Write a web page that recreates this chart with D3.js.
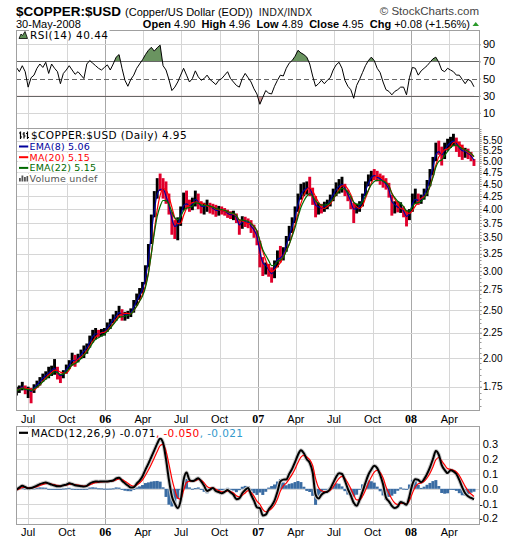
<!DOCTYPE html>
<html><head><meta charset="utf-8">
<script src="https://cdn.jsdelivr.net/npm/d3@7"></script>
<style>body{margin:0;background:#fff}svg{display:block}</style>
</head><body>
<svg id="c" width="520" height="540"></svg>
<script>
// ---------- DATA (weekly readings from the picture) ----------
const firstWeek = "2005-06-03";
const closeVals = [
1.72,1.74,1.76,1.71,1.73,1.70,1.76,1.78,1.81,1.84,
1.86,1.88,1.90,1.92,1.85,1.82,1.87,1.92,1.96,2.01,
1.97,2.01,2.05,2.09,2.12,2.19,2.25,2.26,2.23,2.26,
2.27,2.33,2.37,2.42,2.46,2.50,2.44,2.45,2.46,2.48,
2.58,2.66,2.73,2.80,3.02,3.35,3.85,4.25,4.50,4.45,
4.40,4.15,3.95,3.65,3.60,3.75,3.98,4.20,4.12,4.05,
4.12,4.25,4.10,4.00,4.05,4.08,4.02,4.00,3.95,3.98,
3.97,3.95,3.90,3.88,3.90,3.82,3.62,3.80,3.77,3.76,
3.65,3.58,3.45,3.12,3.00,3.05,2.98,2.92,3.10,3.25,
3.20,3.28,3.48,3.62,3.80,3.98,4.25,4.40,4.42,4.45,
4.40,4.15,3.95,4.02,4.00,4.08,4.10,4.22,4.35,4.45,
4.50,4.52,4.35,4.20,4.05,3.90,4.02,4.08,4.25,4.48,
4.62,4.72,4.70,4.62,4.58,4.52,4.45,4.30,3.98,4.05,
4.00,4.02,3.92,3.80,3.95,4.22,4.25,4.15,4.20,4.35,
4.50,4.75,5.02,5.35,5.28,5.10,5.35,5.45,5.50,5.52,
5.40,5.25,5.20,5.22,5.15,5.08,4.95];
const highVals = [
1.75,1.76,1.79,1.76,1.75,1.74,1.77,1.80,1.83,1.86,
1.88,1.92,1.93,1.99,1.92,1.86,1.89,1.94,1.98,2.05,
2.03,2.04,2.08,2.12,2.14,2.22,2.28,2.30,2.28,2.29,
2.30,2.36,2.40,2.45,2.49,2.55,2.51,2.48,2.49,2.52,
2.62,2.70,2.77,2.85,3.08,3.40,3.90,4.35,4.62,4.72,
4.62,4.55,4.30,3.95,3.80,3.85,4.05,4.32,4.36,4.18,
4.22,4.36,4.30,4.15,4.12,4.18,4.12,4.10,4.08,4.06,
4.05,4.02,3.99,3.96,3.97,3.92,3.80,3.87,3.86,3.83,
3.80,3.72,3.62,3.45,3.20,3.12,3.10,3.05,3.15,3.30,
3.37,3.35,3.53,3.70,3.85,4.05,4.30,4.50,4.53,4.55,
4.65,4.42,4.25,4.12,4.10,4.14,4.18,4.28,4.40,4.53,
4.60,4.65,4.50,4.38,4.25,4.12,4.10,4.15,4.30,4.55,
4.70,4.78,4.82,4.78,4.72,4.68,4.62,4.52,4.28,4.15,
4.15,4.13,4.05,3.98,4.00,4.30,4.40,4.30,4.28,4.40,
4.58,4.82,5.10,5.45,5.50,5.35,5.45,5.55,5.60,5.68,
5.58,5.48,5.40,5.32,5.30,5.22,5.05];
const lowVals = [
1.68,1.70,1.72,1.69,1.66,1.62,1.70,1.74,1.76,1.79,
1.81,1.82,1.84,1.85,1.81,1.78,1.82,1.86,1.90,1.93,
1.92,1.96,1.99,2.00,2.04,2.10,2.15,2.18,2.20,2.21,
2.22,2.26,2.29,2.35,2.38,2.42,2.38,2.38,2.40,2.42,
2.47,2.55,2.62,2.70,2.82,3.05,3.40,3.85,4.20,4.35,
4.20,4.10,3.90,3.55,3.48,3.46,3.70,3.98,4.02,3.95,
3.98,4.05,4.00,3.92,3.90,3.95,3.92,3.90,3.86,3.88,
3.90,3.88,3.84,3.82,3.80,3.75,3.55,3.65,3.68,3.66,
3.58,3.50,3.38,3.05,2.93,2.95,2.92,2.84,2.90,3.05,
3.12,3.15,3.28,3.45,3.58,3.75,3.95,4.18,4.25,4.28,
4.25,4.08,3.85,3.90,3.92,3.95,4.00,4.05,4.15,4.25,
4.30,4.32,4.25,4.15,4.00,3.75,3.92,3.95,4.05,4.25,
4.45,4.55,4.58,4.55,4.48,4.42,4.38,4.22,3.88,3.92,
3.94,3.93,3.85,3.69,3.80,3.95,4.10,4.08,4.10,4.18,
4.25,4.45,4.68,5.00,5.15,4.90,5.05,5.25,5.32,5.36,
5.22,5.10,5.03,5.08,5.05,5.00,4.89];
const rsiVals = [
63,58,65,58,40,51,54,62,67,63,
69,56,67,62,58,44,56,60,65,60,
55,58,54,50,67,71,68,65,62,60,
63,66,60,67,75,78,62,48,41,49,
54,62,67,72,78,83,86.5,82,86,89,
65,60,49,36,40,46,54,62,54,46,
50,59,52,48,50,54,49,46,43,48,
50,54,58,50,46,42,40,50,56,51,
46,38,32,20,28,36,33,32,41,48,
54,53,62,68,71,76,83,80,78,75,
67,53,41,44,48,44,48,51,60,66,
69,62,48,41,37,27,42,49,57,65,
71,75,71,62,57,46,37,35,31,35,
37,40,40,31,51,63,62,54,59,62,
65,69,73,75,69,60,58,62,60,58,
54,54,49,44,49,47,40.44];
const macdVals = [
-0.007,0.008,0.020,0.012,0.003,0.005,0.012,0.022,0.032,0.038,
0.043,0.036,0.028,0.022,0.017,0.018,0.024,0.028,0.037,0.032,
0.024,0.020,0.018,0.016,0.020,0.035,0.045,0.050,0.048,0.050,
0.049,0.050,0.052,0.056,0.070,0.075,0.055,0.038,0.022,0.008,
0.010,0.035,0.055,0.085,0.130,0.170,0.215,0.260,0.305,0.340,
0.310,0.200,0.060,-0.050,-0.100,-0.130,-0.080,0.060,0.110,0.060,
0.052,0.060,0.072,0.050,0.020,-0.015,-0.005,0.005,-0.015,-0.022,
-0.030,-0.020,-0.008,-0.025,-0.040,-0.070,-0.065,-0.030,-0.008,0.005,
-0.040,-0.080,-0.125,-0.130,-0.180,-0.175,-0.140,-0.115,-0.080,-0.020,
0.050,0.062,0.063,0.100,0.135,0.180,0.230,0.260,0.240,0.200,
0.175,0.110,-0.040,-0.065,-0.040,-0.025,-0.020,0.000,0.040,0.080,
0.105,0.100,0.055,0.000,-0.045,-0.095,-0.115,-0.075,-0.020,0.040,
0.095,0.130,0.155,0.140,0.095,0.030,-0.060,-0.085,-0.115,-0.130,
-0.120,-0.090,-0.097,-0.108,-0.050,0.030,0.065,0.060,0.045,0.065,
0.100,0.145,0.200,0.255,0.230,0.160,0.128,0.106,0.125,0.118,
0.100,0.060,0.010,-0.030,-0.050,-0.062,-0.071];
const priceTicks = [1.75,2.00,2.25,2.50,2.75,3.00,3.25,3.50,3.75,4.00,4.25,4.50,4.75,5.00,5.25,5.50];
const rsiTicks = [90,70,50,30,10];
const macdTicks = [0.3,0.2,0.1,0.0,-0.1,-0.2];
const tickDates = ["2005-07-01","2005-10-01","2006-01-01","2006-04-01","2006-07-01","2006-10-01","2007-01-01","2007-04-01","2007-07-01","2007-10-01","2008-01-01","2008-04-01"];
const tickLabels = ["Jul","Oct","06","Apr","Jul","Oct","07","Apr","Jul","Oct","08","Apr"];

// ---------- SETUP ----------
const svg = d3.select("#c");
const parse = d3.timeParse("%Y-%m-%d");
const L = 16, R = 479;
const RSI = [30,128], MAIN = [128,410], MACD = [426,524];
const RED = "#e0002c", GRID = "#d6d6d6", YEAR = "#a8a8a8", BORDER = "#a0a0a0";
const SANS = "Liberation Sans, Arial, sans-serif";
const LEG = "DejaVu Sans, Verdana, sans-serif";

const x = d3.scaleTime().domain([parse("2005-06-02"), parse("2008-06-11")]).range([L,R]);
const dates = closeVals.map((_,i)=>d3.timeDay.offset(parse(firstWeek), 7*i));
const yP = d3.scaleLog().domain([5.5,1.75]).range([140.7,386.7]);
const yR = d3.scaleLinear().domain([90,30]).range([44.3,95.7]);
const yM = d3.scaleLinear().domain([0.3,-0.2]).range([444.4,518.4]);

function ema(arr,a){const o=[];arr.forEach((v,i)=>o.push(i?o[i-1]+a*(v-o[i-1]):v));return o;}
function sma(arr,n){return arr.map((v,i)=>d3.mean(arr.slice(Math.max(0,i-n+1),i+1)));}

const defs = svg.append("defs");
function clip(id,x0,y0,x1,y1){defs.append("clipPath").attr("id",id).append("rect").attr("x",x0).attr("y",y0).attr("width",x1-x0).attr("height",y1-y0);}
clip("cRsi",L,RSI[0],R,RSI[1]);
clip("cMain",L,MAIN[0],R,MAIN[1]);
clip("cMacd",L,MACD[0],R,MACD[1]);
clip("cHi",L,RSI[0],R,yR(70));
clip("cLo",L,yR(30),R,RSI[1]);

// ---------- HEADER ----------
const h = svg.append("text").attr("x",L).attr("y",16).attr("font-family",SANS);
h.append("tspan").attr("font-weight","bold").attr("font-size",13.5).text("$COPPER:$USD");
h.append("tspan").attr("font-size",11).attr("dx",4).text("(Copper/US Dollar (EOD))");
h.append("tspan").attr("font-size",10).attr("font-family",LEG).attr("dx",6).attr("fill","#222").text("INDX/INDX");
svg.append("text").attr("x",R).attr("y",15).attr("text-anchor","end").attr("font-family",SANS)
  .attr("font-size",11.5).attr("fill","#444").text("© StockCharts.com");
svg.append("text").attr("x",L).attr("y",27.5).attr("font-family",SANS).attr("font-size",11).text("30-May-2008");
const q = svg.append("text").attr("x",470).attr("y",27.5).attr("text-anchor","end").attr("font-family",SANS).attr("font-size",11);
[["Open"," 4.90  "],["High"," 4.96  "],["Low"," 4.89  "],["Close"," 4.95  "],["Chg"," +0.08 (+1.56%)"]].forEach(([a,b])=>{
  q.append("tspan").attr("font-weight","bold").text(a);
  q.append("tspan").attr("xml:space","preserve").style("white-space","pre").text(b);
});
svg.append("path").attr("d","M472.5,26 L479,26 L475.75,22 Z").attr("fill","#2a9a2a");

// ---------- GRID (vertical, all panels) ----------
const gGrid = svg.append("g");
[RSI,MAIN,MACD].forEach(p=>{
  gGrid.selectAll(null).data(tickDates).join("line")
    .attr("x1",d=>Math.round(x(parse(d)))+0.5).attr("x2",d=>Math.round(x(parse(d)))+0.5)
    .attr("y1",p[0]).attr("y2",p[1])
    .attr("stroke",d=>d.endsWith("01-01")?YEAR:GRID).attr("stroke-width",1);
});

// ---------- RSI PANEL ----------
gGrid.selectAll(null).data([90,10]).join("line").attr("x1",L).attr("x2",R)
  .attr("y1",d=>Math.round(yR(d))+0.5).attr("y2",d=>Math.round(yR(d))+0.5).attr("stroke",GRID);
const gR = svg.append("g");
const rLine = d3.line().x((d,i)=>x(dates[i])).y(d=>yR(d));
gR.append("path").attr("clip-path","url(#cHi)").attr("fill","#6a9460")
  .attr("d",d3.area().x((d,i)=>x(dates[i])).y0(yR(70)).y1(d=>yR(d))(rsiVals));
gR.append("path").attr("clip-path","url(#cLo)").attr("fill","#d09898")
  .attr("d",d3.area().x((d,i)=>x(dates[i])).y0(yR(30)).y1(d=>yR(d))(rsiVals));
[70,30].forEach(v=>gR.append("line").attr("x1",L).attr("x2",R).attr("y1",Math.round(yR(v))+0.5).attr("y2",Math.round(yR(v))+0.5).attr("stroke","#666"));
gR.append("line").attr("x1",L).attr("x2",R).attr("y1",Math.round(yR(50))+0.5).attr("y2",Math.round(yR(50))+0.5)
  .attr("stroke","#666").attr("stroke-dasharray","5,3");
gR.append("path").attr("clip-path","url(#cRsi)").attr("fill","none").attr("stroke","#000").attr("stroke-width",1)
  .attr("d",rLine(rsiVals));
svg.append("g").attr("transform",`translate(${R},0)`)
  .call(d3.axisRight(yR).tickValues(rsiTicks).tickSize(2).tickPadding(2))
  .call(g=>{g.select(".domain").remove();g.selectAll("line").attr("stroke",BORDER);
    g.selectAll("text").attr("font-family",SANS).attr("font-size",11).attr("fill","#000");});

// ---------- MAIN PANEL ----------
gGrid.selectAll(null).data(priceTicks).join("line").attr("x1",L).attr("x2",R)
  .attr("y1",d=>Math.round(yP(d))+0.5).attr("y2",d=>Math.round(yP(d))+0.5).attr("stroke",GRID);
const gM = svg.append("g").attr("clip-path","url(#cMain)");
gM.selectAll("line.bar").data(closeVals).join("line").attr("class","bar")
  .attr("x1",(d,i)=>x(dates[i])).attr("x2",(d,i)=>x(dates[i]))
  .attr("y1",(d,i)=>yP(highVals[i])).attr("y2",(d,i)=>yP(lowVals[i]))
  .attr("stroke",(d,i)=>i>0&&d<closeVals[i-1]?RED:"#000").attr("stroke-width",2.9);
const pLine = d3.line().x((d,i)=>x(dates[i])).y(d=>yP(d)).curve(d3.curveMonotoneX);
const ema8 = ema(closeVals,0.59), ma20 = sma(closeVals,4), ema22 = ema(closeVals,0.32);
gM.append("path").attr("d",pLine(ema8)).attr("fill","none").attr("stroke","#00009c").attr("stroke-width",1.2);
gM.append("path").attr("d",pLine(ma20)).attr("fill","none").attr("stroke","#ff0000").attr("stroke-width",1.2);
gM.append("path").attr("d",pLine(ema22)).attr("fill","none").attr("stroke","#006a00").attr("stroke-width",1.2);
// minor ticks
const minor = d3.range(32,117).map(k=>k*0.05);
svg.append("g").selectAll("line").data(minor.filter(v=>yP(v)>MAIN[0]&&yP(v)<MAIN[1])).join("line")
  .attr("x1",R).attr("x2",R+2.5).attr("y1",d=>Math.round(yP(d))+0.5).attr("y2",d=>Math.round(yP(d))+0.5).attr("stroke","#999");
svg.append("g").attr("transform",`translate(${R},0)`)
  .call(d3.axisRight(yP).tickValues(priceTicks).tickFormat(d3.format(".2f")).tickSize(3).tickPadding(1))
  .call(g=>{g.select(".domain").remove();g.selectAll("line").attr("stroke","#999");
    g.selectAll("text").attr("font-family",SANS).attr("font-size",10).attr("fill","#000");});

// ---------- MACD PANEL ----------
gGrid.selectAll(null).data(macdTicks).join("line").attr("x1",L).attr("x2",R)
  .attr("y1",d=>Math.round(yM(d))+0.5).attr("y2",d=>Math.round(yM(d))+0.5).attr("stroke",GRID);
const signal = ema(macdVals,0.45);
const hist = macdVals.map((v,i)=>v-signal[i]);
const gC = svg.append("g").attr("clip-path","url(#cMacd)");
gC.selectAll("rect").data(hist).join("rect")
  .attr("x",(d,i)=>x(dates[i])-1.5).attr("width",3)
  .attr("y",d=>Math.min(yM(d),yM(0))).attr("height",d=>Math.max(1,Math.abs(yM(d)-yM(0))))
  .attr("fill","#3a6ca3");
const mLine = d3.line().x((d,i)=>x(dates[i])).y(d=>yM(d)).curve(d3.curveMonotoneX);
gC.append("path").attr("d",mLine(macdVals)).attr("fill","none").attr("stroke","#c8c8c8").attr("stroke-width",4);
gC.append("path").attr("d",mLine(signal)).attr("fill","none").attr("stroke","#ff0000").attr("stroke-width",1.2);
gC.append("path").attr("d",mLine(macdVals)).attr("fill","none").attr("stroke","#000").attr("stroke-width",2);
svg.append("g").attr("transform",`translate(${R},0)`)
  .call(d3.axisRight(yM).tickValues(macdTicks).tickFormat(d3.format(".1f")).tickSize(0).tickPadding(0))
  .call(g=>{g.select(".domain").remove();
    g.selectAll("text").attr("font-family",SANS).attr("font-size",11).attr("fill","#000")
     .attr("text-anchor","end").attr("x",19).text(d=>d3.format(".1f")(d).replace("−","-"));});

// ---------- X AXIS LABELS ----------
[MAIN[1]+12.5, MACD[1]+11.5].forEach(yy=>{
  svg.append("g").selectAll("text").data(tickDates).join("text")
    .attr("x",d=>x(parse(d))).attr("y",yy).attr("text-anchor","middle")
    .attr("font-family",(d,i)=>/^\d/.test(tickLabels[i])?"Liberation Serif, Times New Roman, serif":SANS)
    .attr("font-weight",(d,i)=>/^\d/.test(tickLabels[i])?"bold":"normal")
    .attr("font-size",(d,i)=>/^\d/.test(tickLabels[i])?12:11)
    .text((d,i)=>tickLabels[i]);
});

// ---------- PANEL BORDERS ----------
[RSI,MAIN,MACD].forEach(p=>svg.append("rect").attr("x",L+0.5).attr("y",p[0]+0.5).attr("width",R-L).attr("height",p[1]-p[0])
  .attr("fill","none").attr("stroke",BORDER));

// ---------- LEGENDS ----------
function legend(xx,yy,parts,size,ls){
  const g = svg.append("g");
  const bg = g.append("rect").attr("fill","#fff");
  const t = g.append("text").attr("x",xx).attr("y",yy).attr("font-family",LEG).attr("font-size",size).attr("letter-spacing",ls);
  parts.forEach(([s,c])=>t.append("tspan").attr("fill",c).text(s));
  const b = t.node().getBBox();
  bg.attr("x",b.x-1).attr("y",b.y+1).attr("width",b.width+2).attr("height",b.height-2);
  return g;
}
// RSI legend
svg.append("rect").attr("x",18).attr("y",31).attr("width",11).attr("height",8).attr("fill","#fff");
svg.append("path").attr("d","M19,38.5 L21,34 L22.5,35.5 L25,31.5 L27.5,38.5 Z").attr("fill","#5e8f56").attr("stroke","#000").attr("stroke-width",0.8);
legend(30,38.5,[["RSI(14) 40.44","#000"]],10.5,0.5);
// Price legend
svg.append("rect").attr("x",18).attr("y",130).attr("width",12).attr("height",10).attr("fill","#fff");
svg.append("path").attr("d","M20.5,131.5V139 M19,133h1.5 M20.5,137h1.5 M24,132V138.5 M22.5,134h1.5 M24,136h1.5 M27.5,131.5V139 M26,133.5h1.5 M27.5,137.5h1.5")
  .attr("stroke","#000").attr("stroke-width",1.2).attr("fill","none");
legend(31,139,[["$COPPER:$USD (Daily) 4.95","#000"]],10.5,0.4);
[["EMA(8) 5.06","#00009c",150],["MA(20) 5.15","#ff0000",160.7],["EMA(22) 5.15","#006a00",171.4]].forEach(([s,c,yy])=>{
  svg.append("rect").attr("x",18).attr("y",yy-7).attr("width",11).attr("height",8).attr("fill","#fff");
  svg.append("line").attr("x1",19).attr("x2",28.5).attr("y1",yy-3.5).attr("y2",yy-3.5).attr("stroke",c).attr("stroke-width",2);
  legend(29.5,yy,[[s,c]],9.5,0.2);
});
svg.append("rect").attr("x",18).attr("y",174).attr("width",11).attr("height",8).attr("fill","#fff");
[[19,178],[21.5,175.5],[24,177],[26.5,176]].forEach(([a,b])=>svg.append("rect").attr("x",a).attr("y",b).attr("width",1.8).attr("height",181.5-b).attr("fill","#555"));
legend(29.5,182,[["Volume undef","#555"]],9.5,0.2);
// MACD legend
svg.append("rect").attr("x",18).attr("y",428).attr("width",11).attr("height",9).attr("fill","#fff");
svg.append("line").attr("x1",19).attr("x2",28).attr("y1",432.8).attr("y2",432.8).attr("stroke","#000").attr("stroke-width",2.2);
legend(31,436.5,[["MACD(12,26,9) -0.071","#000"],[", -0.050","#ff0000"],[", -0.021","#3399cc"]],10.5,0.4);
</script>
</body></html>
